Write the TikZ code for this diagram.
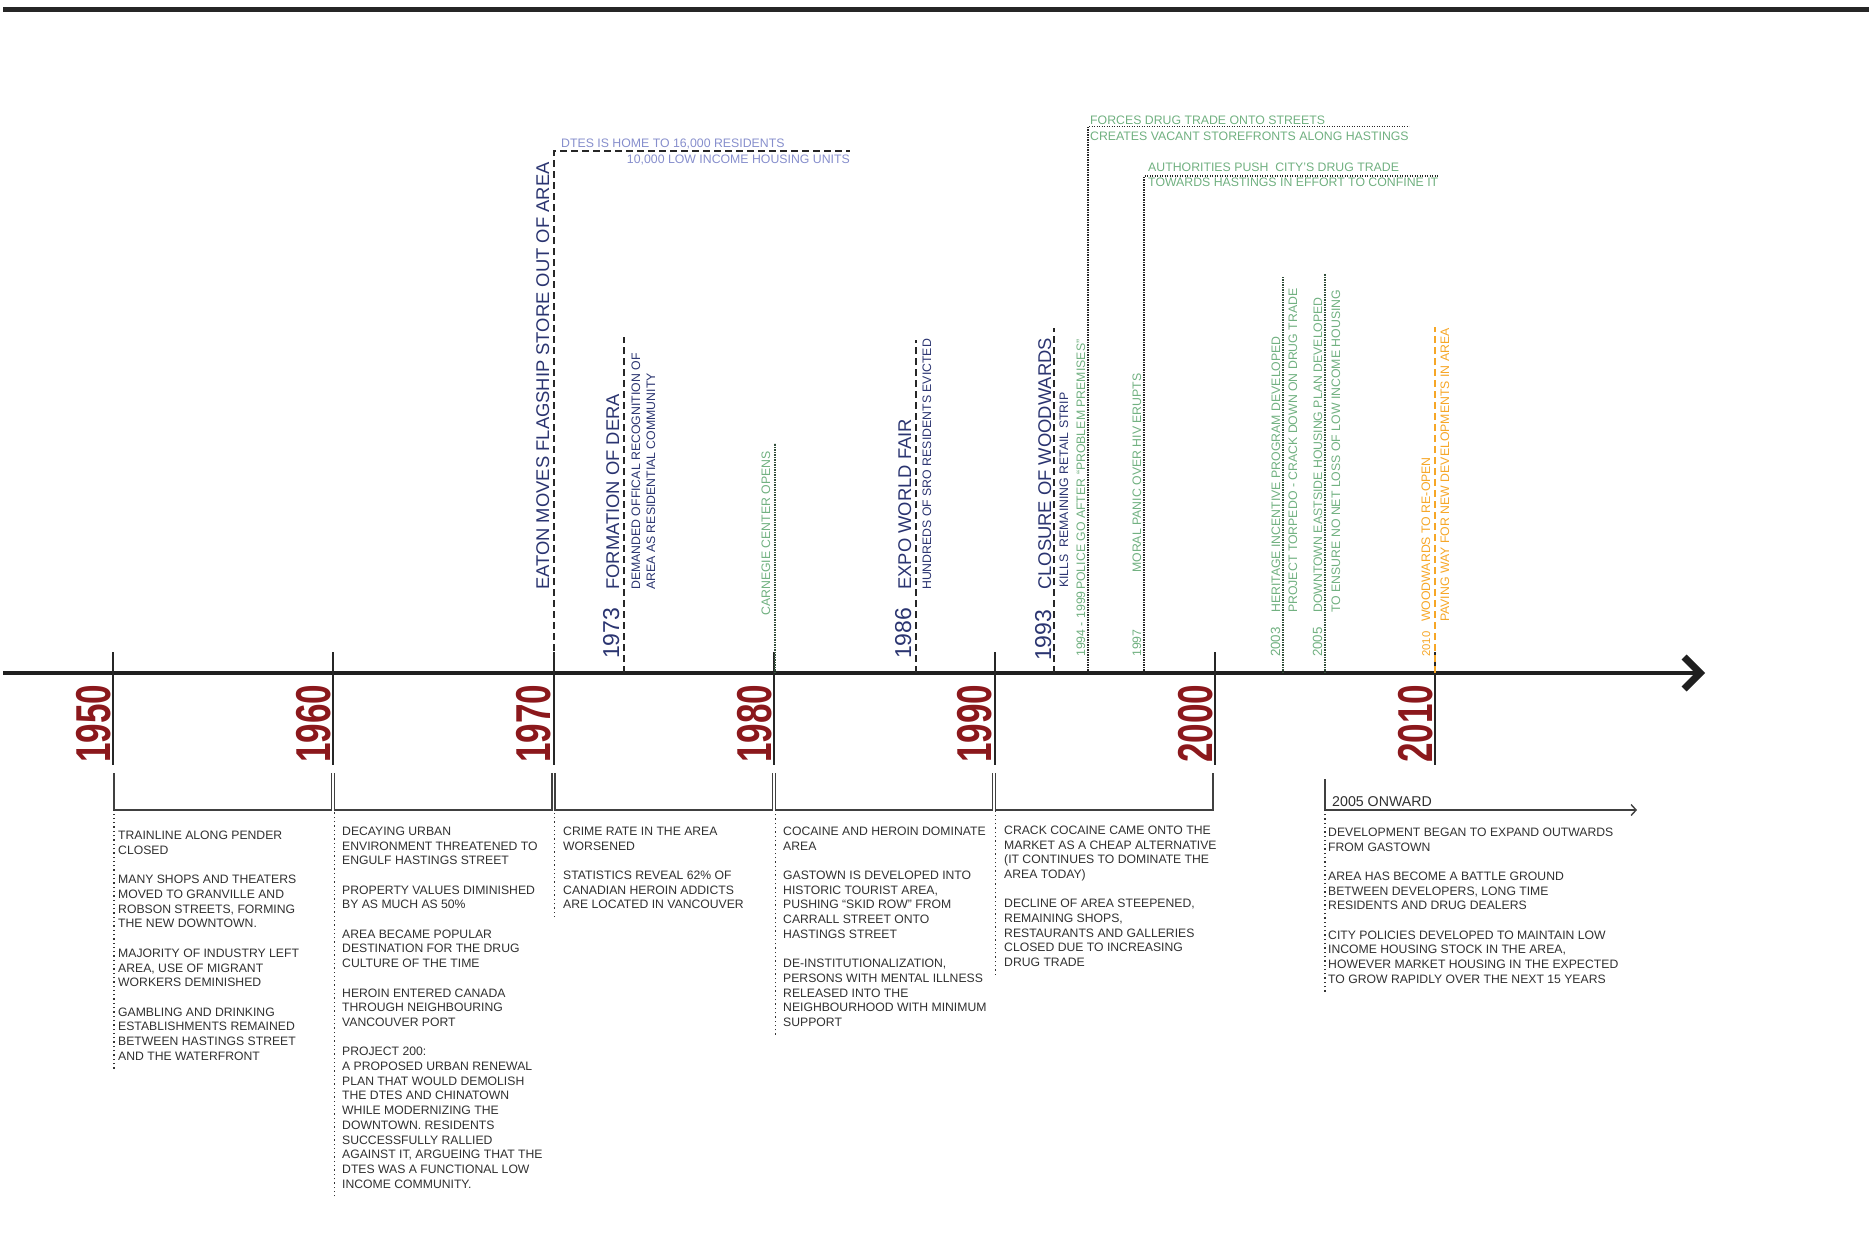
\documentclass[tikz,border=0pt]{standalone}
\usepackage{fontspec}
\setmainfont{Liberation Sans}
\usepackage{graphicx}
\usetikzlibrary{arrows.meta}
\definecolor{yearred}{RGB}{139,24,28}
\definecolor{navy}{RGB}{42,52,112}
\definecolor{lavender}{RGB}{134,142,204}
\definecolor{sage}{RGB}{112,176,128}
\definecolor{amber}{RGB}{246,166,38}
\definecolor{ink}{RGB}{48,48,48}
\newcommand{\gapline}{\\[14.7pt]}

\begin{document}
\begin{tikzpicture}[x=1pt,y=-1pt,line join=miter]
    \tikzstyle{decade}=[rotate=90,anchor=base west,inner sep=0pt,text=yearred,font=\fontsize{49}{49}\selectfont\bfseries]
    \tikzstyle{big event}=[rotate=90,anchor=base west,inner sep=0pt,text=navy,font=\fontsize{18.4}{18.4}\selectfont]
    \tikzstyle{big year}=[big event,font=\fontsize{23}{23}\selectfont]
    \tikzstyle{event small}=[rotate=90,anchor=base west,inner sep=0pt,text=navy,font=\fontsize{12.3}{12.3}\selectfont]
    \tikzstyle{green note}=[event small,text=sage]
    \tikzstyle{green year}=[green note,font=\fontsize{13.3}{13.3}\selectfont]
    \tikzstyle{orange note}=[event small,text=amber]
    \tikzstyle{flat note}=[anchor=base west,inner sep=0pt,font=\fontsize{12.3}{12.3}\selectfont]
    \tikzstyle{body}=[anchor=north west,inner sep=0pt,align=left,text=ink,font=\fontsize{12.2}{14.7}\selectfont]
    \tikzstyle{event dash}=[draw=black!85,line width=1.3pt,dash pattern=on 7pt off 4pt]
    \tikzstyle{event dot}=[draw=black!85,line width=1.1pt,dash pattern=on 1.1pt off 1.4pt]
    \tikzstyle{decade tick}=[draw=black!85,line width=2pt]
    \tikzstyle{bracket}=[draw=black!75,line width=1.4pt]
    \tikzstyle{text dot}=[draw=black!80,line width=1.3pt,dash pattern=on 1.3pt off 3pt,shorten <=-8pt]

    \useasboundingbox (0,0) rectangle (1869,1243);

    % Top rule and the main axis
    \draw[line width=5pt,black!85] (3,9.5) -- (1869,9.5);
    \coordinate (axis) at (3,673);
    \coordinate (axis end) at (1705,673);
    \draw[line width=3.6pt,black!88,-{Straight Barb[length=16pt,width=32pt,line width=7pt]}] (axis) -- (axis end);

    % Draw the decade ticks and years
    \foreach \name / \i in {1950/0,1960/1,1970/2,1980/3,1990/4,2000/5,2010/6}
    {
        \coordinate (D-\name) at (113+220.4*\i,673);
        \draw[decade tick] (113+220.4*\i,652) -- (113+220.4*\i,765);
        \node[decade] (Y-\name) at (110+220.4*\i,763) {\scalebox{0.716}[1]{\name}};
    }

    % Brackets under each decade
    \foreach \name / \i in {1950/0,1960/1,1970/2,1980/3,1990/4}
    {
        \coordinate (K-\name) at (114+220.4*\i,810);
        \draw[bracket] (114+220.4*\i,773) -- (K-\name) -- (111+220.4*\i+220.4,810) -- (111+220.4*\i+220.4,773);
    }

    % 1970
    \coordinate (E-1970) at (554,151);
    \coordinate (dtes) at (850,151);
    \draw[event dash] (E-1970 |- axis) -- (E-1970) -- (dtes);
    \node[big event] (eaton) at (549,590) {EATON MOVES FLAGSHIP STORE OUT OF AREA};
    \node[flat note,text=lavender] (dtes-a) at (561,147.4) {DTES IS HOME TO 16,000 RESIDENTS};
    \node[flat note,text=lavender,anchor=base east] (dtes-b) at (dtes |- 0,163) {10,000 LOW INCOME HOUSING UNITS};

    % 1973
    \coordinate (E-1973) at (624,337);
    \draw[event dash] (E-1973 |- axis) -- (E-1973);
    \node[big year] (y-1973) at (619,659) {1973};
    \node[big event] (dera) at (619,590) {FORMATION OF DERA};
    \node[event small] (dera-a) at (640,590) {DEMANDED OFFICAL RECOGNITION OF};
    \node[event small] (dera-b) at (655,590) {AREA AS RESIDENTIAL COMMUNITY};

    % 1980 carnegie
    \coordinate (E-1980) at (775,443);
    \draw[event dot,draw=sage!45!black] (E-1980 |- axis) -- (E-1980);
    \node[green note] (carnegie) at (770,616) {CARNEGIE CENTER OPENS};

    % 1986
    \coordinate (E-1986) at (916,340);
    \draw[event dash] (E-1986 |- axis) -- (E-1986);
    \node[big year] (y-1986) at (911,659) {1986};
    \node[big event] (expo) at (911,590) {EXPO WORLD FAIR};
    \node[event small] (expo-a) at (931,590) {HUNDREDS OF SRO RESIDENTS EVICTED};

    % 1993
    \coordinate (E-1993) at (1054,328);
    \draw[event dash] (E-1993 |- axis) -- (E-1993);
    \node[big year] (y-1993) at (1051,661) {1993};
    \node[big event] (woodwards) at (1051,590) {CLOSURE OF WOODWARDS};
    \node[event small] (woodwards-a) at (1068,588) {KILLS~~REMAINING RETAIL STRIP};

    % 1994 - 1999
    \coordinate (E-1994) at (1088,126.5);
    \coordinate (forces) at (1409,126.5);
    \draw[event dot] (E-1994 |- axis) -- (E-1994) -- (forces);
    \node[green note] (y-1994) at (1085,657) {1994 - 1999};
    \node[green note] (police) at (1085,590) {POLICE GO AFTER “PROBLEM PREMISES”};
    \node[flat note,text=sage] (forces-a) at (1090,124) {FORCES DRUG TRADE ONTO STREETS};
    \node[flat note,text=sage] (forces-b) at (1090,140) {CREATES VACANT STOREFRONTS ALONG HASTINGS};

    % 1997
    \coordinate (E-1997) at (1144,176);
    \coordinate (push) at (1439,176);
    \draw[event dot] (E-1997 |- axis) -- (E-1997) -- (push);
    \node[green note] (y-1997) at (1141,657) {1997};
    \node[green note] (panic) at (1141,573) {MORAL PANIC OVER HIV ERUPTS};
    \node[flat note,text=sage] (push-a) at (1148,171.5) {AUTHORITIES PUSH~~CITY’S DRUG TRADE};
    \node[flat note,text=sage] (push-b) at (1148,186.5) {TOWARDS HASTINGS IN EFFORT TO CONFINE IT};

    % 2003
    \coordinate (E-2003) at (1283,276);
    \draw[event dot,draw=sage!45!black] (E-2003 |- axis) -- (E-2003);
    \node[green year] (y-2003) at (1280,657) {2003};
    \node[green note] (heritage) at (1280,613) {HERITAGE INCENTIVE PROGRAM DEVELOPED};
    \node[green note] (torpedo) at (1297,613) {PROJECT TORPEDO - CRACK DOWN ON DRUG TRADE};

    % 2005
    \coordinate (E-2005) at (1325,274);
    \draw[event dot,draw=sage!45!black] (E-2005 |- axis) -- (E-2005);
    \node[green year] (y-2005) at (1322,657) {2005};
    \node[green note] (housing) at (1322,613) {DOWNTOWN EASTSIDE HOUSING PLAN DEVELOPED};
    \node[green note] (housing-a) at (1340,613) {TO ENSURE NO NET LOSS OF LOW INCOME HOUSING};

    % 2010
    \coordinate (E-2010) at (1435,327);
    \draw[event dash,draw=amber] (E-2010 |- axis) -- (E-2010);
    \node[orange note,font=\fontsize{11.3}{11.3}\selectfont] (y-2010) at (1430,657) {2010};
    \node[orange note] (reopen) at (1430,622) {WOODWARDS TO RE-OPEN};
    \node[orange note] (reopen-a) at (1449,622) {PAVING WAY FOR NEW DEVELOPMENTS IN AREA};

    % Decade notes below the axis
    \node[body] (B-1950) at (118,831) {TRAINLINE ALONG PENDER\\CLOSED\gapline
        MANY SHOPS AND THEATERS\\MOVED TO GRANVILLE AND\\ROBSON STREETS, FORMING\\THE NEW DOWNTOWN.\gapline
        MAJORITY OF INDUSTRY LEFT\\AREA, USE OF MIGRANT\\WORKERS DEMINISHED\gapline
        GAMBLING AND DRINKING\\ESTABLISHMENTS REMAINED\\BETWEEN HASTINGS STREET\\AND THE WATERFRONT};
    \node[body] (B-1960) at (342,826.6) {DECAYING URBAN\\ENVIRONMENT THREATENED TO\\ENGULF HASTINGS STREET\gapline
        PROPERTY VALUES DIMINISHED\\BY AS MUCH AS 50\%\gapline
        AREA BECAME POPULAR\\DESTINATION FOR THE DRUG\\CULTURE OF THE TIME\gapline
        HEROIN ENTERED CANADA\\THROUGH NEIGHBOURING\\VANCOUVER PORT\gapline
        PROJECT 200:\\A PROPOSED URBAN RENEWAL\\PLAN THAT WOULD DEMOLISH\\THE DTES AND CHINATOWN\\WHILE MODERNIZING THE\\DOWNTOWN. RESIDENTS\\SUCCESSFULLY RALLIED\\AGAINST IT, ARGUEING THAT THE\\DTES WAS A FUNCTIONAL LOW\\INCOME COMMUNITY.};
    \node[body] (B-1970) at (563,826.6) {CRIME RATE IN THE AREA\\WORSENED\gapline
        STATISTICS REVEAL 62\% OF\\CANADIAN HEROIN ADDICTS\\ARE LOCATED IN VANCOUVER};
    \node[body] (B-1980) at (783,826.6) {COCAINE AND HEROIN DOMINATE\\AREA\gapline
        GASTOWN IS DEVELOPED INTO\\HISTORIC TOURIST AREA,\\PUSHING “SKID ROW” FROM\\CARRALL STREET ONTO\\HASTINGS STREET\gapline
        DE-INSTITUTIONALIZATION,\\PERSONS WITH MENTAL ILLNESS\\RELEASED INTO THE\\NEIGHBOURHOOD WITH MINIMUM\\SUPPORT};
    \node[body] (B-1990) at (1004,825.6) {CRACK COCAINE CAME ONTO THE\\MARKET AS A CHEAP ALTERNATIVE\\(IT CONTINUES TO DOMINATE THE\\AREA TODAY)\gapline
        DECLINE OF AREA STEEPENED,\\REMAINING SHOPS,\\RESTAURANTS AND GALLERIES\\CLOSED DUE TO INCREASING\\DRUG TRADE};

    % 2005 onward
    \coordinate (K-2005) at (1325,810);
    \coordinate (onward end) at (1637,810);
    \draw[bracket] (K-2005 |- 0,779) -- (K-2005);
    \draw[bracket,-{Straight Barb[length=5pt,width=11pt]}] (K-2005) -- (onward end);
    \node[flat note,text=ink,font=\fontsize{14.2}{14.2}\selectfont] (onward) at (1332,806) {2005 ONWARD};
    \node[body] (B-2005) at (1328,827.6) {DEVELOPMENT BEGAN TO EXPAND OUTWARDS\\FROM GASTOWN\gapline
        AREA HAS BECOME A BATTLE GROUND\\BETWEEN DEVELOPERS, LONG TIME\\RESIDENTS AND DRUG DEALERS\gapline
        CITY POLICIES DEVELOPED TO MAINTAIN LOW\\INCOME HOUSING STOCK IN THE AREA,\\HOWEVER MARKET HOUSING IN THE EXPECTED\\TO GROW RAPIDLY OVER THE NEXT 15 YEARS};

    % Dotted guides down the notes
    \foreach \name in {1950,1960,1970,1980,1990,2005}
        \draw[text dot] (B-\name.south -| K-\name) -- (K-\name);
\end{tikzpicture}
\end{document}
